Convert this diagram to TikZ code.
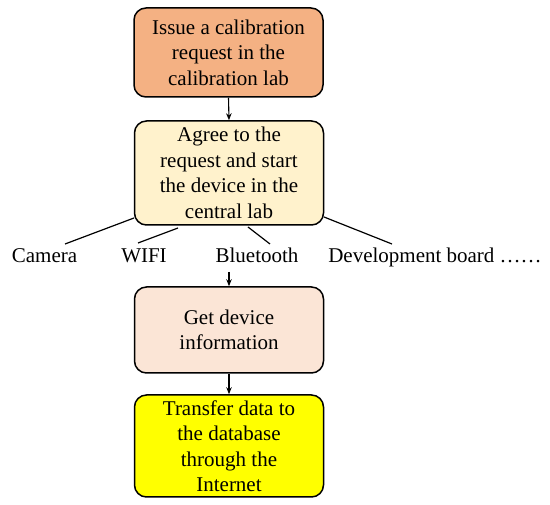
\documentclass[tikz,border=0pt]{standalone}
\usepackage{fontspec}
\setmainfont{Liberation Serif}
\usetikzlibrary{arrows.meta}
\definecolor{cOrange}{HTML}{F4B183}
\definecolor{cCream}{HTML}{FFF2CC}
\definecolor{cPeach}{HTML}{FBE5D6}
\definecolor{cYellow}{HTML}{FFFF00}
\begin{document}
\begin{tikzpicture}[x=1pt,y=-1pt,
  box/.style={draw=black,line width=1.5pt,rounded corners=12pt,minimum width=189pt,
    align=center,inner sep=0pt,font=\fontsize{21}{25.5}\selectfont},
  lbl/.style={inner sep=0pt,anchor=base,font=\fontsize{21}{25.5}\selectfont},
  conn/.style={line width=1.2pt},
  arr/.style={line width=1.1pt,-{Stealth[length=7pt,width=5.5pt]}}]
\useasboundingbox (0,0) rectangle (550,505);
\node[box,fill=cOrange,minimum height=89pt] (b1) at (228.5,52.5)
  {Issue a calibration\\request in the\\calibration lab};
\node[box,fill=cCream,minimum height=104pt] (b2) at (229,173)
  {Agree to the\\request and start\\the device in the\\central lab};
\node[box,fill=cPeach,minimum height=86pt] (b3) at (229,330)
  {Get device\\information};
\node[box,fill=cYellow,minimum height=102pt] (b4) at (229,446)
  {Transfer data to\\the database\\through the\\Internet};
\node[lbl] (cam) at (44.5,263) {Camera};
\node[lbl] (wifi) at (144,263) {WIFI};
\node[lbl] (bt) at (257,263) {Bluetooth};
\node[lbl] (dev) at (435,263) {Development board ……};
\coordinate (c1s) at (134,218);
\coordinate (c1e) at (65,244);
\coordinate (c2s) at (178,228);
\coordinate (c2e) at (138,243);
\coordinate (c3s) at (248,227);
\coordinate (c3e) at (270,244);
\coordinate (c4s) at (324,217);
\coordinate (c4e) at (392,244);
\coordinate (a3s) at (229,272);
\draw[arr] (b1.south) -- (b2.north);
\draw[conn] (c1s) -- (c1e);
\draw[conn] (c2s) -- (c2e);
\draw[conn] (c3s) -- (c3e);
\draw[conn] (c4s) -- (c4e);
\draw[arr] (a3s) -- (b3.north);
\draw[arr] (b3.south) -- (b4.north);
\end{tikzpicture}
\end{document}
